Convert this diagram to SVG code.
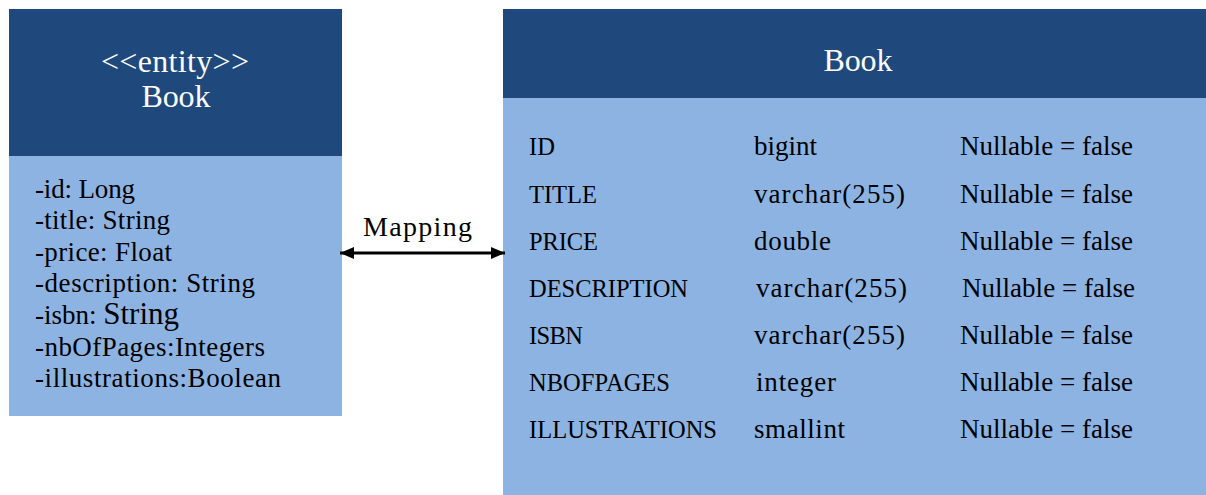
<svg xmlns="http://www.w3.org/2000/svg" width="1206" height="495" viewBox="0 0 1206 495">
<style>
.hdr{fill:#1f497d}
.body{fill:#8db3e2}
.t{font-family:"Liberation Serif","DejaVu Serif",serif;font-size:27px;fill:#000}
.c{font-size:24.5px}
.w{font-family:"Liberation Serif","DejaVu Serif",serif;font-size:32px;fill:#fff;text-anchor:middle}
</style>
<defs>
<marker id="ah" viewBox="0 0 14 12" refX="14" refY="6" markerWidth="14" markerHeight="12" markerUnits="userSpaceOnUse" orient="auto-start-reverse">
<path d="M0,0 L14,6 L0,12 z" fill="#000"/>
</marker>
</defs>
<rect width="1206" height="495" fill="#fff"/>
<g id="entity">
<rect class="hdr" x="9" y="9" width="333" height="147"/>
<rect class="body" x="9" y="156" width="333" height="260"/>
<text class="w" x="175" y="72" textLength="148">&lt;&lt;entity&gt;&gt;</text>
<text class="w" x="176" y="107" textLength="69">Book</text>
<text class="t" x="35" y="198" textLength="100">-id: Long</text>
<text class="t" x="35" y="229" textLength="135">-title: String</text>
<text class="t" x="35" y="261" textLength="137">-price: Float</text>
<text class="t" x="35" y="292" textLength="220">-description: String</text>
<text class="t" x="35" y="324">-isbn: <tspan style="font-size:31px">String</tspan></text>
<text class="t" x="35" y="356" textLength="230">-nbOfPages:Integers</text>
<text class="t" x="35" y="387" textLength="246">-illustrations:Boolean</text>
</g>
<g id="table">
<rect class="hdr" x="503" y="9" width="703" height="89"/>
<rect class="body" x="503" y="98" width="703" height="397"/>
<text class="w" x="858" y="71" textLength="69">Book</text>
<text class="t c" x="529" y="155">ID</text>
<text class="t" x="754" y="155">bigint</text>
<text class="t" x="960" y="155" textLength="173">Nullable = false</text>
<text class="t c" x="529" y="203" textLength="68">TITLE</text>
<text class="t" x="754" y="203" textLength="151">varchar(255)</text>
<text class="t" x="960" y="203" textLength="173">Nullable = false</text>
<text class="t c" x="529" y="250" textLength="69">PRICE</text>
<text class="t" x="754" y="250" textLength="77">double</text>
<text class="t" x="960" y="250" textLength="173">Nullable = false</text>
<text class="t c" x="529" y="297" textLength="159">DESCRIPTION</text>
<text class="t" x="756" y="297" textLength="151">varchar(255)</text>
<text class="t" x="962" y="297" textLength="173">Nullable = false</text>
<text class="t c" x="529" y="344" textLength="54">ISBN</text>
<text class="t" x="754" y="344" textLength="151">varchar(255)</text>
<text class="t" x="960" y="344" textLength="173">Nullable = false</text>
<text class="t c" x="529" y="391" textLength="141">NBOFPAGES</text>
<text class="t" x="756" y="391" textLength="80">integer</text>
<text class="t" x="960" y="391" textLength="173">Nullable = false</text>
<text class="t c" x="529" y="438" textLength="188">ILLUSTRATIONS</text>
<text class="t" x="754" y="438" textLength="91">smallint</text>
<text class="t" x="960" y="438" textLength="173">Nullable = false</text>
</g>
<g id="connectors">
<line x1="340" y1="253" x2="505" y2="253" stroke="#000" stroke-width="3" marker-start="url(#ah)" marker-end="url(#ah)"/>
<text class="t" x="363" y="236" style="font-size:28px" textLength="109">Mapping</text>
</g>
</svg>
